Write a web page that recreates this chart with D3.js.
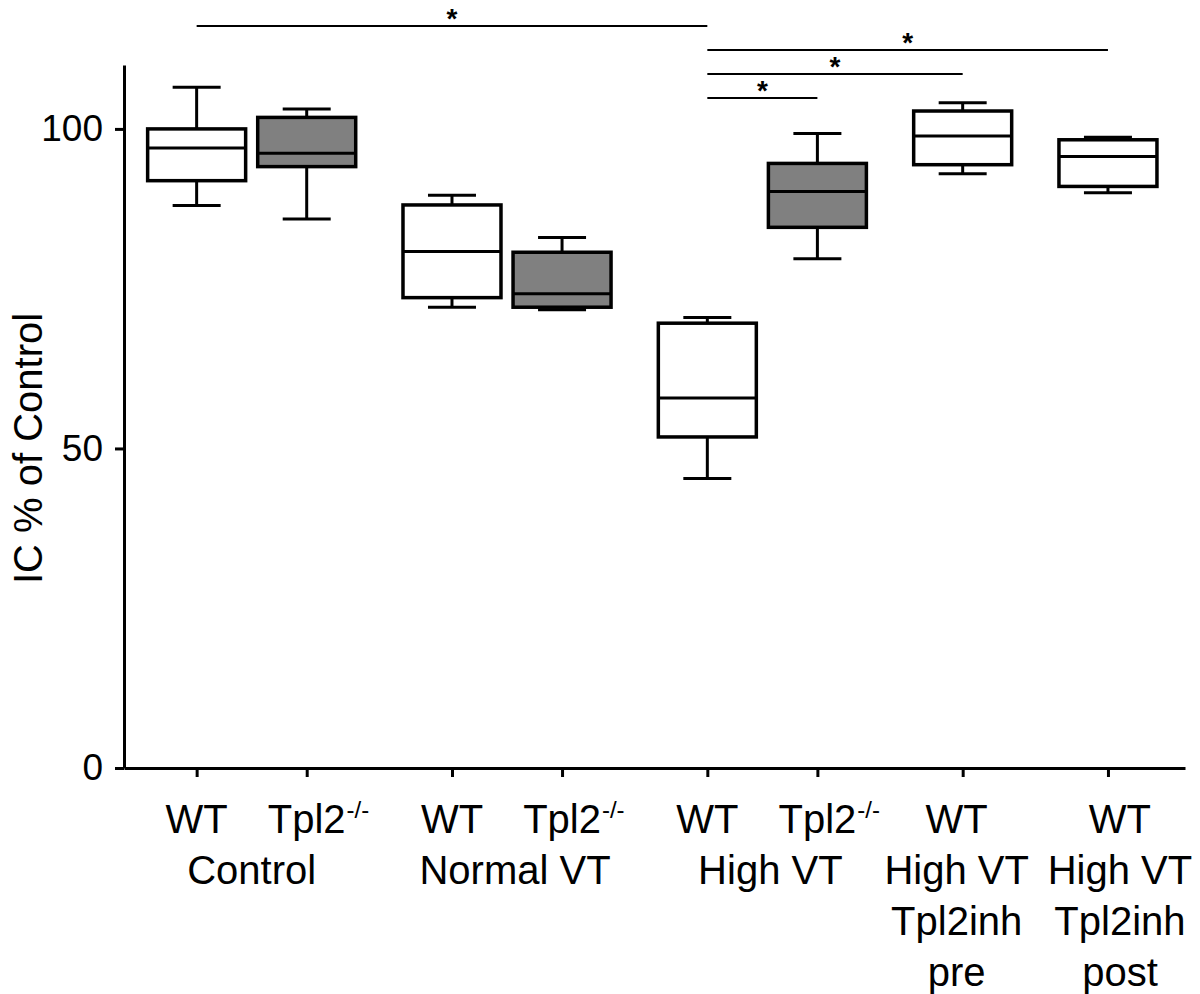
<!DOCTYPE html>
<html>
<head>
<meta charset="utf-8">
<script src="https://cdn.jsdelivr.net/npm/d3@7"></script>
<style>
  body { margin: 0; background: #fff; }
  svg { display: block; font-family: "Liberation Sans", Arial, sans-serif; }
</style>
</head>
<body>
<div id="chart"></div>
<script>
// categories
var genotypes = ['WT', 'Tpl2', 'WT', 'Tpl2', 'WT', 'Tpl2', 'WT', 'WT'];
var groupOf = [0, 0, 1, 1, 2, 2, 3, 4];
var groupLines = [
  ['Control'],
  ['Normal VT'],
  ['High VT'],
  ['High VT', 'Tpl2inh', 'pre'],
  ['High VT', 'Tpl2inh', 'post']
];
var knockout = [false, true, false, true, false, true, false, false];

// box values (IC % of control)
var mins    = [88.0, 85.9, 72.1, 71.7, 45.3, 79.7, 93.0, 90.0];
var q1s     = [91.9, 94.1, 73.6, 72.1, 51.8, 84.6, 94.4, 91.0];
var medians = [97.0, 96.2, 80.8, 74.2, 57.9, 90.2, 98.9, 95.7];
var q3s     = [100.0, 101.8, 88.1, 80.7, 69.6, 94.6, 102.8, 98.3];
var maxs    = [106.5, 103.1, 89.6, 83.0, 70.5, 99.3, 104.1, 98.7];

var yTicks = [0, 50, 100];

// significance brackets, top to bottom
var comparisons = [[0, 4], [4, 7], [4, 6], [4, 5]];

var width = 1200, height = 994;

var svg = d3.select('#chart').append('svg')
  .attr('width', width)
  .attr('height', height);

// slot positions: pairs sit closer than separate groups
var slots = [];
var pos = 0;
genotypes.forEach(function (g, i) {
  if (i > 0) pos += groupOf[i] === groupOf[i - 1] ? 1 : 1.32;
  slots.push(pos);
});

var x = d3.scaleLinear().domain([-0.66, 8.98]).range([124, 1185]);
var y = d3.scaleLinear().domain([0, 110]).range([768, 65]);

var boxW = 98, capW = 48;

// axes
var yAxis = d3.axisLeft(y).tickValues(yTicks).tickSize(9).tickSizeOuter(0).tickPadding(12);
var gy = svg.append('g').attr('transform', 'translate(124,0)').call(yAxis);
gy.select('.domain').attr('stroke-width', 3);
gy.selectAll('.tick line').attr('stroke-width', 3);
gy.selectAll('.tick text')
  .attr('font-size', 37)
  .attr('font-family', '"Liberation Sans", Arial, sans-serif')
  .attr('fill', '#000');

var xAxis = d3.axisBottom(x).tickValues(slots).tickSize(9).tickSizeOuter(0).tickFormat('');
var gx = svg.append('g').attr('transform', 'translate(0,768)').call(xAxis);
gx.select('.domain').attr('stroke-width', 3);
gx.selectAll('.tick line').attr('stroke-width', 3);

// y title
svg.append('text')
  .attr('transform', 'translate(42,' + y(50) + ') rotate(-90)')
  .attr('text-anchor', 'middle')
  .attr('font-size', 40)
  .text('IC % of Control');

// boxes
var boxes = svg.append('g').selectAll('g')
  .data(genotypes)
  .enter()
  .append('g')
  .attr('transform', function (d, i) { return 'translate(' + x(slots[i]) + ',0)'; });

boxes.append('line')
  .attr('y1', function (d, i) { return y(maxs[i]); })
  .attr('y2', function (d, i) { return y(q3s[i]); })
  .attr('stroke', '#000').attr('stroke-width', 3);
boxes.append('line')
  .attr('y1', function (d, i) { return y(q1s[i]); })
  .attr('y2', function (d, i) { return y(mins[i]); })
  .attr('stroke', '#000').attr('stroke-width', 3);
[maxs, mins].forEach(function (arr) {
  boxes.append('line')
    .attr('x1', -capW / 2).attr('x2', capW / 2)
    .attr('y1', function (d, i) { return y(arr[i]); })
    .attr('y2', function (d, i) { return y(arr[i]); })
    .attr('stroke', '#000').attr('stroke-width', 3);
});
boxes.append('rect')
  .attr('x', -boxW / 2)
  .attr('width', boxW)
  .attr('y', function (d, i) { return y(q3s[i]); })
  .attr('height', function (d, i) { return y(q1s[i]) - y(q3s[i]); })
  .attr('fill', function (d, i) { return knockout[i] ? '#808080' : '#fff'; })
  .attr('stroke', '#000').attr('stroke-width', 3.5);
boxes.append('line')
  .attr('x1', -boxW / 2).attr('x2', boxW / 2)
  .attr('y1', function (d, i) { return y(medians[i]); })
  .attr('y2', function (d, i) { return y(medians[i]); })
  .attr('stroke', '#000').attr('stroke-width', 3);

// x labels (small nudges so the last two columns do not collide)
var rowY = [833, 884, 935, 986];
var groupShift = [0, 8, 8, -6, 12];
var labels = svg.append('g').attr('font-size', 40);
genotypes.forEach(function (g, i) {
  var cx = x(slots[i]) + (groupOf[i] >= 3 ? groupShift[groupOf[i]] : 0);
  var t = labels.append('text')
    .attr('x', cx).attr('y', rowY[0])
    .attr('text-anchor', 'middle')
    .text(g);
  if (g === 'Tpl2') {
    var w = t.node().getComputedTextLength();
    labels.append('text')
      .attr('x', cx + w / 2 + 1).attr('y', rowY[0] - 15)
      .attr('font-size', 24)
      .text('-/-');
  }
});
groupLines.forEach(function (lines, gi) {
  var members = [];
  groupOf.forEach(function (g, i) { if (g === gi) members.push(x(slots[i])); });
  var cx = d3.mean(members) + groupShift[gi];
  lines.forEach(function (line, li) {
    labels.append('text')
      .attr('x', cx).attr('y', rowY[li + 1])
      .attr('text-anchor', 'middle')
      .text(line);
  });
});

// significance brackets
var brackets = svg.append('g');
comparisons.forEach(function (c, k) {
  var ly = 26 + k * 24;
  var x1 = x(slots[c[0]]), x2 = x(slots[c[1]]);
  brackets.append('line')
    .attr('x1', x1).attr('x2', x2)
    .attr('y1', ly).attr('y2', ly)
    .attr('stroke', '#000').attr('stroke-width', 2);
  brackets.append('text')
    .attr('x', (x1 + x2) / 2).attr('y', ly + 2)
    .attr('text-anchor', 'middle')
    .attr('font-size', 28)
    .attr('font-weight', 'bold')
    .text('*');
});
</script>
</body>
</html>
